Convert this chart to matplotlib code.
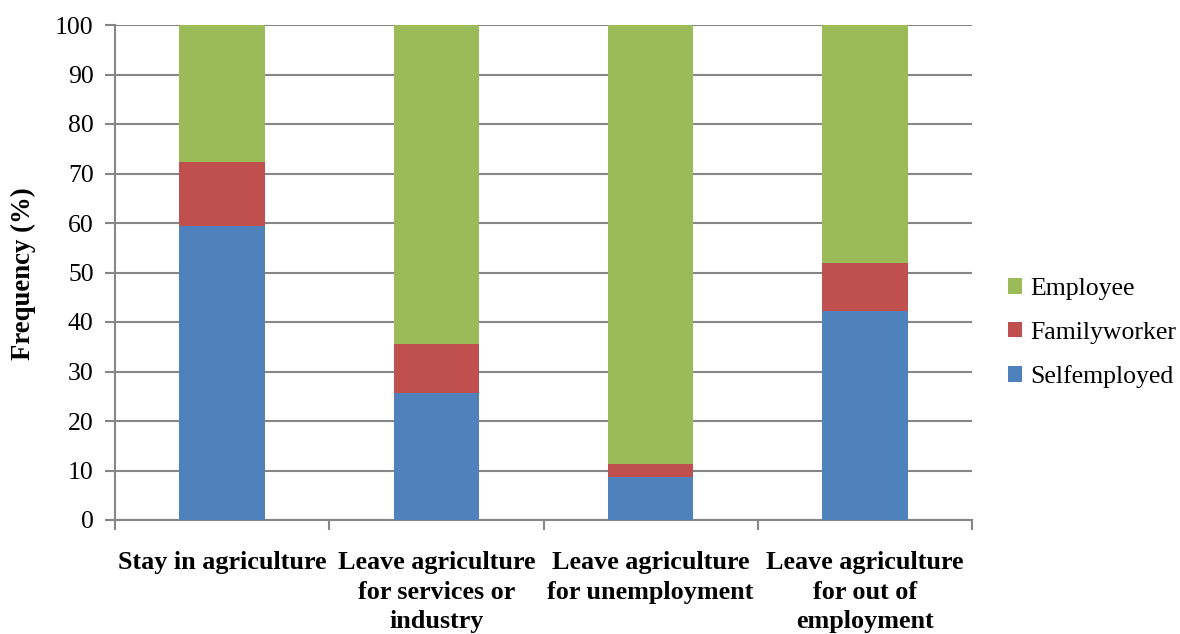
import matplotlib
matplotlib.use("Agg")
import matplotlib.pyplot as plt
from matplotlib.patches import Patch
import numpy as np

categories = [
    "Stay in agriculture",
    "Leave agriculture\nfor services or\nindustry",
    "Leave agriculture\nfor unemployment",
    "Leave agriculture\nfor out of\nemployment",
]
selfemployed = [59.3, 25.7, 8.6, 42.2]
familyworker = [13.0, 9.9, 2.8, 9.7]
employee = [100 - s - f for s, f in zip(selfemployed, familyworker)]
series_names = ["Selfemployed", "Familyworker", "Employee"]
colors = ["#4F81BD", "#C0504D", "#9BBB59"]
yticks = list(range(0, 101, 10))

plt.rcParams["font.family"] = ["Liberation Serif", "DejaVu Serif"]

fig = plt.figure(figsize=(11.8, 6.34), dpi=100)
ax = fig.add_axes([115 / 1180, 1 - 520 / 634, (972 - 115) / 1180, (520 - 25) / 634])

x = np.arange(len(categories))
width = 0.40
bottom = np.zeros(len(categories))
for vals, name, col in zip([selfemployed, familyworker, employee], series_names, colors):
    ax.bar(x, vals, width, bottom=bottom, color=col, label=name, zorder=3)
    bottom += np.array(vals)

ax.set_xlim(-0.5, len(categories) - 0.5)
ax.set_ylim(0, 100)
ax.set_yticks(yticks)
ax.set_yticklabels([str(t) for t in yticks], fontsize=18.5)
ax.yaxis.grid(True, color="#868686", linewidth=1.5, zorder=0)
ax.set_axisbelow(True)

grey = "#868686"
for side in ["top", "right"]:
    ax.spines[side].set_visible(False)
for side in ["left", "bottom"]:
    ax.spines[side].set_color(grey)
    ax.spines[side].set_linewidth(1.5)
ax.tick_params(axis="y", direction="out", length=7, width=1.5, color=grey, pad=8.3)

# category boundaries carry the tick marks; labels sit at the centres
ax.set_xticks(np.arange(-0.5, len(categories), 1.0))
ax.set_xticklabels([])
ax.tick_params(axis="x", direction="out", length=7, width=1.5, color=grey)
for xi, lab in zip(x, categories):
    ax.text(xi, -6.3, lab, ha="center", va="top", fontsize=18.8, fontweight="bold",
            linespacing=1.36, transform=ax.transData)

ax.set_ylabel("Frequency (%)", fontsize=19.3, fontweight="bold")
ax.yaxis.set_label_coords(-0.092, 0.497)

handles = [Patch(facecolor=c, edgecolor="none") for c in colors]
leg = fig.legend(handles[::-1], series_names[::-1], loc="center left",
                 bbox_to_anchor=(985 / 1180, 1 - 333 / 634), frameon=False,
                 fontsize=18.5, handlelength=0.55, handleheight=0.55,
                 handletextpad=0.3, labelspacing=0.84)

fig.savefig("out.png", dpi=100)
